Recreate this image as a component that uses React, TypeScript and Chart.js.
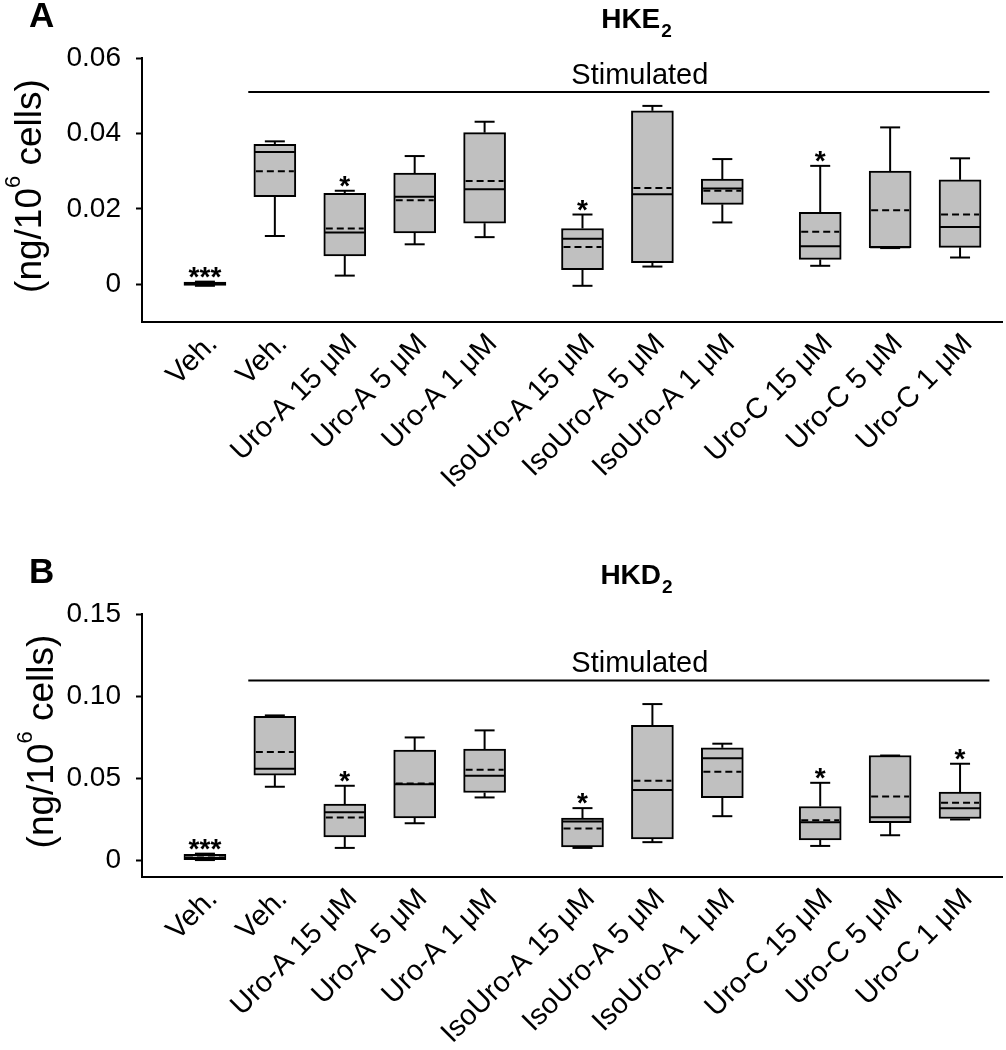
import React, { useEffect, useRef } from "react";
import { Chart, registerables } from "chart.js";

Chart.register(...registerables);

// ---------- data ----------
const categories = [
  "Veh.",
  "Veh.",
  "Uro-A 15 \u03bcM",
  "Uro-A 5 \u03bcM",
  "Uro-A 1 \u03bcM",
  "IsoUro-A 15 \u03bcM",
  "IsoUro-A 5 \u03bcM",
  "IsoUro-A 1 \u03bcM",
  "Uro-C 15 \u03bcM",
  "Uro-C 5 \u03bcM",
  "Uro-C 1 \u03bcM",
];
const xPositions = [0, 1, 2, 3, 4, 5.4, 6.4, 7.4, 8.8, 9.8, 10.8];

// Panel A: HKE2
const aMin = [-0.0004, 0.0128, 0.0023, 0.0106, 0.0125, -0.0004, 0.0047, 0.0164, 0.0049, 0.0096, 0.0071];
const aQ1 = [-0.0003, 0.0232, 0.0075, 0.0136, 0.0162, 0.0039, 0.0057, 0.0212, 0.0066, 0.0097, 0.0098];
const aMedian = [0.0001, 0.0351, 0.0137, 0.0232, 0.0252, 0.0121, 0.0239, 0.0254, 0.0101, 0.0098, 0.0152];
const aQ3 = [0.0006, 0.0371, 0.0241, 0.0295, 0.0402, 0.0148, 0.046, 0.0279, 0.0191, 0.03, 0.0277];
const aMax = [0.0007, 0.0379, 0.0248, 0.034, 0.0431, 0.0185, 0.0473, 0.0332, 0.0314, 0.0416, 0.0334];
const aMean = [0.0002, 0.03, 0.0148, 0.0223, 0.0274, 0.0099, 0.0255, 0.0248, 0.0139, 0.0196, 0.0185];
const aStars = ["***", "", "*", "", "", "*", "", "", "*", "", ""];
const aTicks = [0, 0.02, 0.04, 0.06];
const aTickLabels = ["0", "0.02", "0.04", "0.06"];
const aRange = [-0.01, 0.06];
const aStimLevel = 0.051;

// Panel B: HKD2
const bMin = [0.0003, 0.0449, 0.0077, 0.0227, 0.0384, 0.0077, 0.0112, 0.027, 0.0089, 0.0154, 0.025];
const bQ1 = [0.0005, 0.052, 0.0144, 0.026, 0.0414, 0.0083, 0.0132, 0.0382, 0.0126, 0.0231, 0.0256];
const bMedian = [0.0015, 0.0558, 0.0294, 0.0465, 0.0516, 0.0238, 0.043, 0.0623, 0.0233, 0.0264, 0.0319];
const bQ3 = [0.0038, 0.0877, 0.0343, 0.0672, 0.0678, 0.0258, 0.0822, 0.0686, 0.0329, 0.0639, 0.0416];
const bMax = [0.0042, 0.0883, 0.0455, 0.0749, 0.0792, 0.0319, 0.0952, 0.0711, 0.0473, 0.0639, 0.0589];
const bMean = [0.0018, 0.066, 0.0262, 0.0469, 0.0552, 0.0195, 0.0485, 0.054, 0.0246, 0.039, 0.0351];
const bStars = ["***", "", "*", "", "", "*", "", "", "*", "", "*"];
const bTicks = [0, 0.05, 0.1, 0.15];
const bTickLabels = ["0", "0.05", "0.10", "0.15"];
const bRange = [-0.01, 0.15];
const bStimLevel = 0.1096;

// ---------- layout / style ----------
const FONT = "'Liberation Sans', Arial, Helvetica, sans-serif";
const W = 1006;
const H = 525;
const BOX_W = 42;
const CAP_W = 20;

type Panel = {
  letter: string;
  title: string;
  sub: string;
  min: number[];
  q1: number[];
  med: number[];
  q3: number[];
  max: number[];
  mean: number[];
  stars: string[];
  ticks: number[];
  tickLabels: string[];
  range: number[];
  stim: number;
  padTop: number;
  xAxisH: number;
  yTitleX: number;
};

const panels: Panel[] = [
  {
    letter: "A", title: "HKE", sub: "2",
    min: aMin, q1: aQ1, med: aMedian, q3: aQ3, max: aMax, mean: aMean, stars: aStars,
    ticks: aTicks, tickLabels: aTickLabels, range: aRange, stim: aStimLevel,
    padTop: 58, xAxisH: 203, yTitleX: 41,
  },
  {
    letter: "B", title: "HKD", sub: "2",
    min: bMin, q1: bQ1, med: bMedian, q3: bQ3, max: bMax, mean: bMean, stars: bStars,
    ticks: bTicks, tickLabels: bTickLabels, range: bRange, stim: bStimLevel,
    padTop: 89, xAxisH: 173, yTitleX: 53,
  },
];

function makePlugin(p: Panel) {
  return {
    id: "boxExtras" + p.letter,
    afterDatasetsDraw(chart: any) {
      const ctx = chart.ctx as CanvasRenderingContext2D;
      const xs = chart.scales.x;
      const ys = chart.scales.y;
      const line = (x1: number, y1: number, x2: number, y2: number) => {
        ctx.beginPath();
        ctx.moveTo(x1, y1);
        ctx.lineTo(x2, y2);
        ctx.stroke();
      };
      ctx.save();
      ctx.strokeStyle = "#000";
      ctx.lineWidth = 2;
      ctx.lineCap = "butt";
      xPositions.forEach((xv, i) => {
        const cx = xs.getPixelForValue(xv);
        const h = BOX_W / 2;
        const c = CAP_W / 2;
        const yMin = ys.getPixelForValue(p.min[i]);
        const yQ1 = ys.getPixelForValue(p.q1[i]);
        const yMed = ys.getPixelForValue(p.med[i]);
        const yQ3 = ys.getPixelForValue(p.q3[i]);
        const yMax = ys.getPixelForValue(p.max[i]);
        const yMean = ys.getPixelForValue(p.mean[i]);
        // whiskers
        if (yMax < yQ3 - 1) {
          line(cx, yQ3, cx, yMax);
        }
        line(cx - c, yMax, cx + c, yMax);
        if (yMin > yQ1 + 1) {
          line(cx, yQ1, cx, yMin);
        }
        line(cx - c, yMin, cx + c, yMin);
        // median
        line(cx - h + 1, yMed, cx + h - 1, yMed);
        // mean (dashed)
        ctx.setLineDash([7, 4]);
        line(cx - h + 2, yMean, cx + h - 2, yMean);
        ctx.setLineDash([]);
        // significance stars
        if (p.stars[i]) {
          ctx.fillStyle = "#000";
          ctx.font = `bold 28px ${FONT}`;
          ctx.textAlign = "center";
          ctx.textBaseline = "alphabetic";
          const top = Math.min(yMax, yQ3);
          ctx.fillText(p.stars[i], cx, top - 13 + 17);
        }
      });
      // "Stimulated" bracket line
      const yS = ys.getPixelForValue(p.stim);
      const xStart = xs.getPixelForValue(xPositions[1] - 0.38);
      const xEnd = xs.getPixelForValue(xPositions[xPositions.length - 1] + 0.42);
      line(xStart, yS, xEnd, yS);
      ctx.fillStyle = "#000";
      ctx.font = `29px ${FONT}`;
      ctx.textAlign = "center";
      ctx.textBaseline = "alphabetic";
      ctx.fillText("Stimulated", xs.getPixelForValue(6.22), yS - 8);
      ctx.restore();
    },
    afterDraw(chart: any) {
      const ctx = chart.ctx as CanvasRenderingContext2D;
      const area = chart.chartArea;
      ctx.save();
      ctx.fillStyle = "#000";
      ctx.textBaseline = "alphabetic";
      // panel letter
      ctx.font = `bold 35px ${FONT}`;
      ctx.textAlign = "left";
      ctx.fillText(p.letter, 29, area.top - 31);
      // title with subscript
      const mainFont = `bold 28px ${FONT}`;
      const subFont = `bold 19px ${FONT}`;
      ctx.font = mainFont;
      const wMain = ctx.measureText(p.title).width;
      ctx.font = subFont;
      const wSub = ctx.measureText(p.sub).width;
      const tx = 636 - (wMain + wSub) / 2;
      const ty = area.top - 30;
      ctx.font = mainFont;
      ctx.fillText(p.title, tx, ty);
      ctx.font = subFont;
      ctx.fillText(p.sub, tx + wMain + 1, ty + 9);
      // y-axis title with superscript
      const f1 = `37px ${FONT}`;
      const f2 = `22px ${FONT}`;
      const partA = "(ng/10";
      const partSup = "6";
      const partB = " cells)";
      ctx.font = f1;
      const wa = ctx.measureText(partA).width;
      const wb = ctx.measureText(partB).width;
      ctx.font = f2;
      const ws = ctx.measureText(partSup).width;
      const total = wa + ws + wb;
      const cy = (area.top + area.bottom) / 2 - 4;
      ctx.translate(p.yTitleX, cy);
      ctx.rotate(-Math.PI / 2);
      let x0 = -total / 2;
      ctx.font = f1;
      ctx.fillText(partA, x0, 0);
      x0 += wa;
      ctx.font = f2;
      ctx.fillText(partSup, x0, -21);
      x0 += ws;
      ctx.font = f1;
      ctx.fillText(partB, x0, 0);
      ctx.restore();
    },
  };
}

function PanelChart({ p }: { p: Panel }) {
  const ref = useRef<HTMLCanvasElement | null>(null);
  useEffect(() => {
    if (!ref.current) return;
    Chart.defaults.font.family = FONT;
    const chart = new Chart(ref.current, {
      type: "bar",
      data: {
        datasets: [
          {
            data: xPositions.map((x, i) => ({ x, y: [p.q1[i], p.q3[i]] })) as any,
            backgroundColor: "#c0c0c0",
            borderColor: "#000",
            borderWidth: 2,
            borderSkipped: false,
            barThickness: BOX_W,
          } as any,
        ],
      },
      options: {
        responsive: false,
        maintainAspectRatio: false,
        animation: false,
        devicePixelRatio: 1,
        layout: { padding: { top: p.padTop, right: 4, left: 0, bottom: 0 } },
        plugins: {
          legend: { display: false },
          tooltip: { enabled: false },
          title: { display: false },
        },
        scales: {
          x: {
            type: "linear",
            min: -0.9,
            max: 11.4,
            offset: false,
            afterBuildTicks: (s: any) => {
              s.ticks = xPositions.map((v) => ({ value: v }));
            },
            afterFit: (s: any) => {
              s.height = p.xAxisH;
            },
            grid: { display: false, drawTicks: false },
            border: { display: true, color: "#000", width: 2 },
            ticks: {
              autoSkip: false,
              minRotation: 45,
              maxRotation: 45,
              padding: 5,
              labelOffset: 8,
              color: "#000",
              font: { size: 29, family: FONT },
              callback: (_v: any, i: number) => categories[i],
            },
          },
          y: {
            type: "linear",
            min: p.range[0],
            max: p.range[1],
            afterBuildTicks: (s: any) => {
              s.ticks = p.ticks.map((v) => ({ value: v }));
            },
            afterFit: (s: any) => {
              s.width = 142;
            },
            grid: {
              drawOnChartArea: false,
              drawTicks: true,
              tickLength: 6,
              tickWidth: 2,
              tickColor: "#000",
            },
            border: { display: true, color: "#000", width: 2 },
            ticks: {
              padding: 15,
              color: "#000",
              font: { size: 28, family: FONT },
              callback: (_v: any, i: number) => p.tickLabels[i],
            },
          },
        },
      } as any,
      plugins: [makePlugin(p)],
    });
    return () => chart.destroy();
  }, [p]);
  return <canvas ref={ref} width={W} height={H} style={{ display: "block", width: W, height: H }} />;
}

export default function App() {
  return (
    <div style={{ position: "absolute", left: 0, top: 0, width: W, height: 2 * H, background: "#fff" }}>
      {panels.map((p) => (
        <PanelChart key={p.letter} p={p} />
      ))}
    </div>
  );
}
